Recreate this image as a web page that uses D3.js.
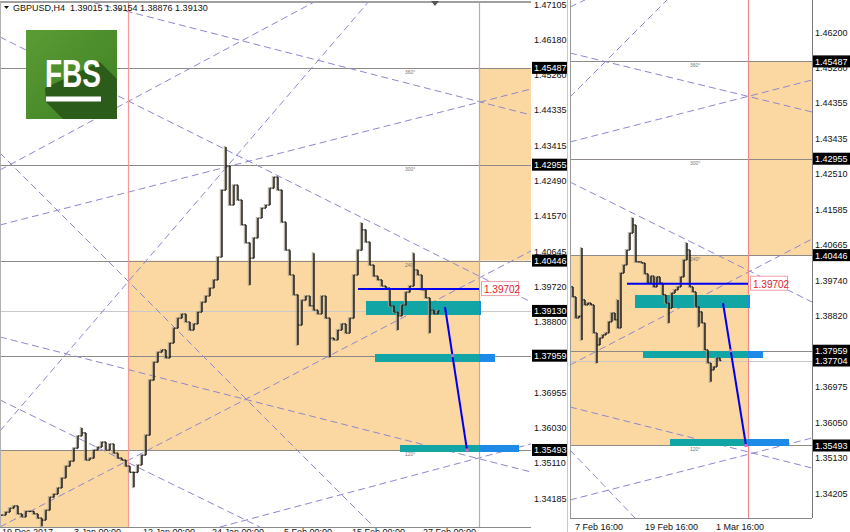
<!DOCTYPE html>
<html><head><meta charset="utf-8">
<script src="https://cdn.jsdelivr.net/npm/d3@7"></script>
<style>
body{margin:0;background:#fff}
svg{display:block}
text{font-family:"Liberation Sans",Arial,sans-serif}
</style>
</head><body>
<svg id="c" width="850" height="532"></svg>
<script>
// ---------------- DATA ----------------
const title = "GBPUSD,H4  1.39015 1.39154 1.38876 1.39130";

// left chart: H4 closes (older snapshot)
const leftClose = [1.3379,1.3387,1.3397,1.3403,1.3382,1.3374,1.3389,1.3389,1.3382,1.3371,
 1.3366,1.3392,1.3426,1.3434,1.3450,1.3476,1.3507,1.3520,1.3554,1.3586,
 1.3594,1.3523,1.3528,1.3549,1.3557,1.3570,1.3549,1.3565,1.3541,1.3528,
 1.3523,1.3507,1.3491,1.3491,1.3510,1.3536,1.3588,1.3732,1.3779,1.3805,
 1.3811,1.3790,1.3829,1.3868,1.3894,1.3905,1.3884,1.3863,1.3879,1.3910,
 1.3936,1.3952,1.3973,1.3994,1.4054,1.4229,1.4292,1.4190,1.4242,1.4203,
 1.4138,1.4091,1.4051,1.4104,1.4156,1.4182,1.4190,1.4234,1.4263,1.4229,
 1.4145,1.4072,1.4007,1.3955,1.3876,1.3941,1.3952,1.3926,1.3915,1.3905,
 1.3952,1.3894,1.3842,1.3837,1.3863,1.3879,1.3855,1.3894,1.4007,1.4072,
 1.4125,1.4093,1.4033,1.4004,1.3994,1.3978,1.3973,1.3926,1.3910,1.3900,
 1.3928,1.3962,1.3978,1.4020,1.4007,1.3968,1.3947,1.3915,1.3905,1.3913];
// [bar index, high, low] for the longer wicks
const leftWicks = [[10,null,1.3350],[20,1.3607,null],[33,null,1.3452],[56,1.4342,null],
 [62,null,1.3981],[74,null,1.3824],[78,1.4064,null],[82,null,1.3792],[90,1.4143,null],
 [99,null,1.3863],[103,1.4064,null],[107,null,1.3855]];

// right chart: H4 closes (newer snapshot)
const rightClose = [1.3962,1.3936,1.3881,1.3886,1.3928,1.3915,1.3920,1.3915,1.3842,1.3811,
 1.3829,1.3837,1.3842,1.3871,1.3894,1.3876,1.3855,1.3998,1.4019,1.4058,
 1.4102,1.4123,1.4027,1.4027,1.4024,1.3996,1.3972,1.3990,1.3962,1.3988,
 1.3972,1.3941,1.3920,1.3907,1.3946,1.3954,1.3962,1.3988,1.4032,1.4058,
 1.3962,1.3949,1.3910,1.3897,1.3868,1.3798,1.3764,1.3746,1.3754,1.3777,
 1.3770];
const rightWicks = [[4,1.4063,1.3824],[9,null,1.3764],[16,1.3928,null],[21,1.4141,null],
 [33,null,1.3868],[39,1.4076,null],[43,null,1.3858],[47,null,1.3715]];

// Gann box levels and their angle captions
const levels = [1.45487,1.42955,1.40446,1.37959,1.35493];
const levelDeg = ["360°","300°","240°","180°","120°"];
const targetPrice = 1.39702;
const leftBid = 1.39130, rightBid = 1.37704;

const leftTicks = [1.47105,1.46180,1.45260,1.44335,1.43415,1.42490,1.41570,1.40645,1.39720,1.38800,1.36955,1.36030,1.35110,1.34185];
const rightTicks = [1.47125,1.46200,1.45280,1.44355,1.43435,1.42510,1.41585,1.40665,1.39740,1.38820,1.36975,1.36050,1.35130,1.34205];

const leftDates = ["19 Dec 2017","3 Jan 00:00","12 Jan 00:00","24 Jan 00:00","5 Feb 00:00","15 Feb 00:00","27 Feb 00:00"];
const leftDateIdx = [0,18,35.25,52.5,70.5,87.5,105.25];
const rightDates = ["7 Feb 16:00","19 Feb 16:00","1 Mar 16:00"];
const rightDateIdx = [1.67,25,48.67];

// shaded Gann zones: [startBar, endBar, topPrice, bottomPrice]
const leftZones = [[-1,31.5,1.35493,1.3300],[31.5,119.25,1.40446,1.35493],[119.25,134,1.45487,1.40446]];
const rightZones = [[-1,59.33,1.40446,1.35493],[59.33,82,1.45487,1.40446]];
// vertical time lines [bar, colour]
const leftVLines = [[31.5,"#f29a9a"],[119.25,"#c9a3a6"]];
const rightVLines = [[59.33,"#f08a8a"]];
// target boxes [startBar, endBar, topPrice, bottomPrice]
const leftBoxes = [[91,119.75,1.39390,1.39024],[93.25,123.25,1.38004,1.37795],[99.5,129.25,1.35624,1.35441]];
const rightBoxes = [[21.67,60,1.39409,1.39071],[24.33,64.33,1.37952,1.37770],[33.33,73,1.35662,1.35480]];
const leftTarget = [89,119.25], rightTarget = [19,59.33];
const leftDiag = [[110.75,1.39233],[116.25,1.35493]];
const rightDiag = [[51,1.39201],[58.67,1.35493]];
// dashed fan lines [bar1, price1, bar2, price2]
const leftFans = [
 [20.25,1.47262,132.25,1.44254],
 [-0.5,1.41378,132.25,1.44934],
 [-0.5,1.42816,79,1.47262],
 [-0.5,1.46294,132.25,1.39364],
 [-0.5,1.35990,92,1.47262],
 [-0.5,1.43261,92.5,1.33532],
 [-0.5,1.36801,64.5,1.33479],
 [-0.5,1.33479,132.25,1.40698],
 [54.5,1.33479,132.25,1.35650],
 [-0.5,1.38448,132.25,1.34918]];
const rightFans = [
 [0,1.45706,80.67,1.44171],
 [0,1.43390,80.67,1.45003],
 [0,1.44561,32.33,1.47085],
 [0,1.42349,80.67,1.39227],
 [0,1.37587,80.67,1.40866],
 [0,1.36495,80.67,1.34907],
 [0,1.34075,80.67,1.35688],
 [0,1.35376,22.33,1.33554],
 [0,1.46903,5,1.47085]];

// ---------------- DRAW ----------------
const svg = d3.select("#c");
const defs = svg.append("defs");
svg.append("rect").attr("width",850).attr("height",532).attr("fill","#fff");

const ZONE="#fbd8a2", TEAL="#12a5a5", BLUEBOX="#1c8ae6", FAN="#8e87cf";

function drawPanel(P){
  const xs=P.xs, ys=P.ys;
  const [cx0,cy0,cx1,cy1]=P.clip;
  const id="clip"+P.name;
  defs.append("clipPath").attr("id",id).append("rect")
    .attr("x",cx0).attr("y",cy0).attr("width",cx1-cx0).attr("height",cy1-cy0);
  const g = svg.append("g").attr("clip-path",`url(#${id})`);

  g.selectAll("rect.zone").data(P.zones).join("rect").attr("class","zone")
    .attr("x",d=>xs(d[0])).attr("width",d=>xs(d[1])-xs(d[0]))
    .attr("y",d=>ys(d[2])).attr("height",d=>ys(d[3])-ys(d[2])).attr("fill",ZONE);

  g.append("line").attr("x1",cx0).attr("x2",cx1)
    .attr("y1",Math.round(ys(P.bid))+0.5).attr("y2",Math.round(ys(P.bid))+0.5)
    .attr("stroke","#c9c9c9").attr("stroke-width",1);

  g.selectAll("line.lvl").data(levels).join("line").attr("class","lvl")
    .attr("x1",cx0).attr("x2",cx1)
    .attr("y1",d=>Math.round(ys(d))+0.5).attr("y2",d=>Math.round(ys(d))+0.5)
    .attr("stroke","#8f8a86").attr("stroke-width",1.2);

  g.selectAll("text.deg").data(levels).join("text").attr("class","deg")
    .attr("x",xs(P.degIdx)).attr("y",d=>ys(d)+6).attr("font-size",5).attr("fill","#777")
    .text((d,i)=>levelDeg[i]);

  g.selectAll("line.fan").data(P.fans).join("line").attr("class","fan")
    .attr("x1",d=>xs(d[0])).attr("y1",d=>ys(d[1])).attr("x2",d=>xs(d[2])).attr("y2",d=>ys(d[3]))
    .attr("stroke",FAN).attr("stroke-width",1).attr("stroke-dasharray","7,4");

  g.selectAll("line.vl").data(P.vlines).join("line").attr("class","vl")
    .attr("x1",d=>Math.round(xs(d[0]))+0.5).attr("x2",d=>Math.round(xs(d[0]))+0.5)
    .attr("y1",cy0).attr("y2",cy1).attr("stroke",d=>d[1]).attr("stroke-width",1.2);

  P.boxes.forEach(b=>{
    const xa=xs(b[0]), xb=xs(b[1]), xm=xs(P.split);
    const yt=ys(b[2]), yb=ys(b[3]);
    g.append("rect").attr("x",xa).attr("y",yt).attr("width",Math.min(xb,xm)-xa).attr("height",yb-yt).attr("fill",TEAL);
    if(xb>xm) g.append("rect").attr("x",xm).attr("y",yt).attr("width",xb-xm).attr("height",yb-yt).attr("fill",BLUEBOX);
  });

  // bars
  const wk = new Map(P.wicks.map(w=>[w[0],w]));
  const bars = P.closes.map((c,i)=>{
    const o = i ? P.closes[i-1] : c;
    let hi=Math.max(o,c), lo=Math.min(o,c);
    const w=wk.get(i);
    if(w){ if(w[1]!=null) hi=Math.max(hi,w[1]); if(w[2]!=null) lo=Math.min(lo,w[2]); }
    return {i,o,c,hi,lo};
  });
  const bg = g.append("g");
  bg.selectAll("line.sh").data(bars).join("line").attr("class","sh")
    .attr("x1",d=>xs(d.i)-1.2).attr("x2",d=>xs(d.i)-1.2)
    .attr("y1",d=>ys(d.hi)-1).attr("y2",d=>ys(d.lo)+1)
    .attr("stroke","#a39a86").attr("stroke-width",2).attr("opacity",0.75);
  bg.selectAll("line.bar").data(bars).join("line").attr("class","bar")
    .attr("x1",d=>xs(d.i)).attr("x2",d=>xs(d.i))
    .attr("y1",d=>ys(d.hi)).attr("y2",d=>ys(d.lo))
    .attr("stroke","#111").attr("stroke-width",1.4);
  bg.selectAll("line.op").data(bars).join("line").attr("class","op")
    .attr("x1",d=>xs(d.i)-P.tick).attr("x2",d=>xs(d.i))
    .attr("y1",d=>ys(d.o)).attr("y2",d=>ys(d.o)).attr("stroke","#222").attr("stroke-width",1.2);
  bg.selectAll("line.cl").data(bars).join("line").attr("class","cl")
    .attr("x1",d=>xs(d.i)).attr("x2",d=>xs(d.i)+P.tick)
    .attr("y1",d=>ys(d.c)).attr("y2",d=>ys(d.c)).attr("stroke","#222").attr("stroke-width",1.2);

  // target line
  g.append("line").attr("x1",xs(P.target[0])).attr("x2",xs(P.target[1]))
    .attr("y1",ys(targetPrice)).attr("y2",ys(targetPrice)).attr("stroke","#0000ee").attr("stroke-width",2);
  // projection
  const [a,b]=P.diag;
  g.append("line").attr("x1",xs(a[0])).attr("y1",ys(a[1])).attr("x2",xs(b[0])).attr("y2",ys(b[1]))
    .attr("stroke","#0000ee").attr("stroke-width",2);
  const t=(levels[3]-a[1])/(b[1]-a[1]);
  const pts=[[a[0]+t*(b[0]-a[0]),levels[3]],b];
  g.selectAll("rect.pt").data(pts).join("rect").attr("class","pt")
    .attr("x",d=>xs(d[0])-1.5).attr("y",d=>ys(d[1])-1.5).attr("width",3).attr("height",3).attr("fill","#e060d0");

  // target label
  const lx=xs(P.target[1])+2, ly=ys(targetPrice);
  svg.append("rect").attr("x",lx+0.5).attr("y",ly-7.5).attr("width",37).attr("height",14)
    .attr("fill","#fff").attr("stroke","#f0a0a8").attr("stroke-width",1);
  svg.append("text").attr("x",lx+3).attr("y",ly+4).attr("font-size",10).attr("fill","#e0202a").text(targetPrice.toFixed(5));

  // axis lines
  svg.append("line").attr("x1",cx0).attr("x2",cx1).attr("y1",cy1+0.5).attr("y2",cy1+0.5).attr("stroke","#8a8a8a");

  // tick labels
  svg.selectAll("text.tk"+P.name).data(P.ticks).join("text").attr("class","tk"+P.name)
    .attr("x",P.labelX+2).attr("y",d=>ys(d)+1.5).attr("font-size",9).attr("fill","#111")
    .text(d=>d.toFixed(5));

  // level & bid labels (black boxes)
  const boxes=[P.bid].concat(levels);
  boxes.forEach(v=>{
    const y=ys(v);
    svg.append("rect").attr("x",P.labelX).attr("y",y-6).attr("width",P.labelW).attr("height",12).attr("fill","#000");
    svg.append("text").attr("x",P.labelX+2).attr("y",y+3.5).attr("font-size",9).attr("fill","#fff").text(v.toFixed(5));
  });

  // date labels
  svg.selectAll("text.dt"+P.name).data(P.dates).join("text").attr("class","dt"+P.name)
    .attr("x",(d,i)=>xs(P.dateIdx[i])).attr("y",P.dateY).attr("font-size",9).attr("fill","#111")
    .attr("xml:space","preserve").text(d=>d);
}

const left = {
  name:"L", clip:[0,3,531,527],
  xs:d3.scaleLinear().domain([0,109]).range([2,438]),
  ys:d3.scaleLinear().domain([1.47105,1.34185]).range([6,500]),
  closes:leftClose, wicks:leftWicks, zones:leftZones, vlines:leftVLines, boxes:leftBoxes,
  split:119.25, target:leftTarget, diag:leftDiag, fans:leftFans, ticks:leftTicks, bid:leftBid,
  labelX:532, labelW:35, degIdx:100.75, dates:leftDates, dateIdx:leftDateIdx, dateY:535, tick:1.6
};
// the left bid is the 1.39130 line, shown in the label column
const right = {
  name:"R", clip:[570,0,812,518],
  xs:d3.scaleLinear().domain([0,50]).range([570,720]),
  ys:d3.scaleLinear().domain([1.462,1.34205]).range([34,495]),
  closes:rightClose, wicks:rightWicks, zones:rightZones, vlines:rightVLines, boxes:rightBoxes,
  split:59.33, target:rightTarget, diag:rightDiag, fans:rightFans, ticks:rightTicks, bid:rightBid,
  labelX:813, labelW:37, degIdx:40, dates:rightDates, dateIdx:rightDateIdx, dateY:530, tick:1.3
};
drawPanel(left);
drawPanel(right);

// frame lines
svg.append("line").attr("x1",0).attr("x2",531).attr("y1",2).attr("y2",2).attr("stroke","#a0a0a0").attr("stroke-width",2);
svg.append("line").attr("x1",0.5).attr("x2",0.5).attr("y1",2).attr("y2",527).attr("stroke","#b0b0b0");
svg.append("line").attr("x1",567.5).attr("x2",567.5).attr("y1",0).attr("y2",532).attr("stroke","#c8c8c8");
svg.append("line").attr("x1",570.5).attr("x2",570.5).attr("y1",0).attr("y2",518).attr("stroke","#9a9a9a");
svg.append("line").attr("x1",812.5).attr("x2",812.5).attr("y1",0).attr("y2",518).attr("stroke","#7a7a7a");
svg.append("path").attr("d","M431,1 L439,1 L435,6 Z").attr("fill","#555");

// title
svg.append("path").attr("d","M4,6 L9,6 L6.5,9 Z").attr("fill","#111");
svg.append("text").attr("x",13).attr("y",11).attr("font-size",9).attr("fill","#111")
  .attr("xml:space","preserve").text(title);

// FBS logo
const lg = defs.append("linearGradient").attr("id","lg").attr("x1",0).attr("y1",0).attr("x2",1).attr("y2",1);
lg.append("stop").attr("offset",0).attr("stop-color","#5b9c36");
lg.append("stop").attr("offset",1).attr("stop-color","#3e7f22");
const logo = svg.append("g");
logo.append("rect").attr("x",26).attr("y",30).attr("width",91).attr("height",89).attr("fill","url(#lg)");
logo.append("path").attr("d","M45,88 L100,62 L117,79 L117,119 L63,119 L46,102 Z").attr("fill","#2c5c1a");
logo.append("text").attr("x",45).attr("y",87).attr("font-size",38).attr("font-weight","bold")
  .attr("fill","#fff").attr("textLength",56).attr("lengthAdjust","spacingAndGlyphs").text("FBS");
logo.append("rect").attr("x",46).attr("y",96.5).attr("width",55).attr("height",5).attr("fill","#fff");
</script>
</body></html>
